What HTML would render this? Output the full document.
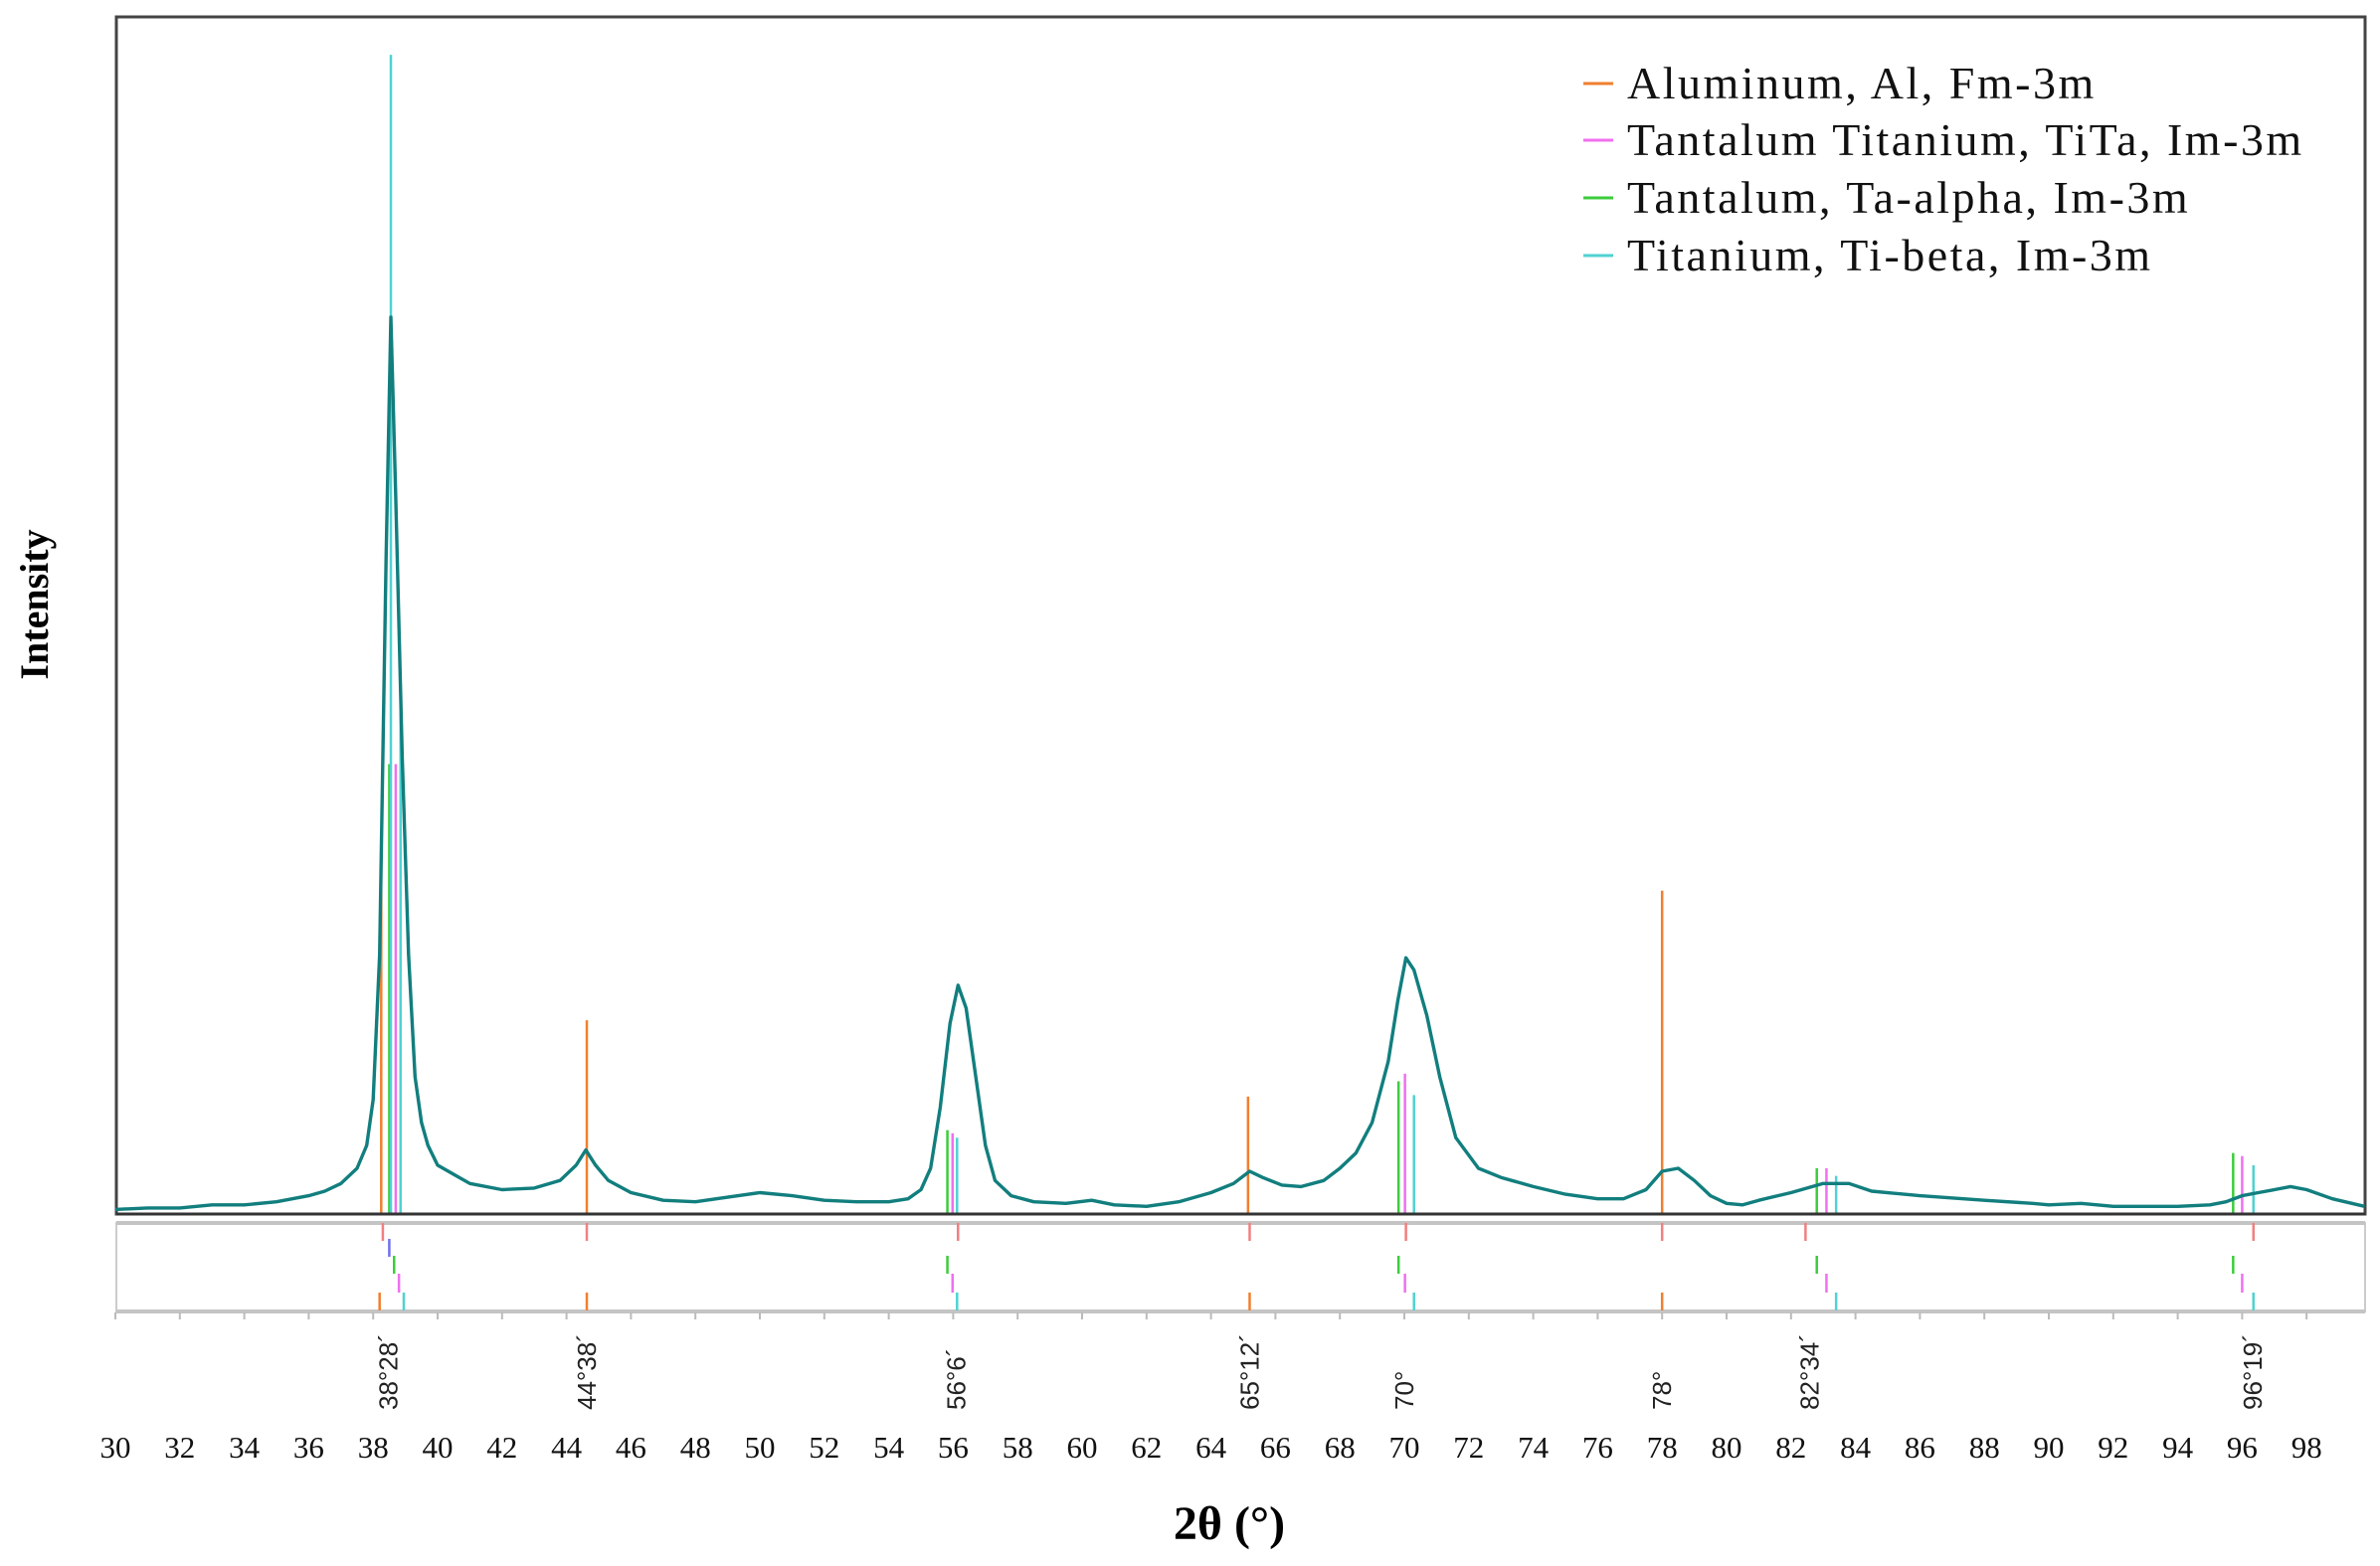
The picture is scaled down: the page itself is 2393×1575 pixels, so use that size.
<!DOCTYPE html>
<html><head><meta charset="utf-8"><style>
html,body{margin:0;padding:0;background:#fff;}
svg{display:block;}
</style></head><body>
<svg id="chart" width="2393" height="1575" xmlns="http://www.w3.org/2000/svg">
<rect x="0" y="0" width="2393" height="1575" fill="#fff"/>
<g id="plot"></g>
</svg>
<script>
// ---- data ----
const curveAngles = [30,31,32,33,34,35,36,36.5,37,37.5,37.8,38,38.2,38.4,38.55,38.7,38.9,39.1,39.3,39.5,39.7,40,40.5,41,42,43,43.8,44.3,44.6,44.9,45.3,46,47,48,49,50,51,52,53,54,54.6,55,55.3,55.6,55.9,56.15,56.4,56.7,57,57.3,57.8,58.5,59.5,60.3,61,62,63,64,64.7,65.2,65.6,66.2,66.8,67.5,68,68.5,69,69.5,69.8,70.05,70.3,70.7,71.1,71.6,72.3,73,74,75,76,76.8,77.5,78,78.5,79,79.5,80,80.5,81,82,83,83.8,84.5,86,88,89.5,90,91,92,93,94,95,95.5,96,96.5,97,97.5,98,98.8,99.8];
const curveIntensity = [3,4,4,6,6,8,12,15,20,30,45,75,170,430,588,470,300,170,90,60,45,32,26,20,16,17,22,32,42,32,22,14,9,8,11,14,12,9,8,8,10,16,30,70,125,150,135,90,45,22,12,8,7,9,6,5,8,14,20,28,24,19,18,22,30,40,60,100,140,168,160,130,90,50,30,24,18,13,10,10,16,28,30,22,12,7,6,9,14,20,20,15,12,9,7,6,7,5,5,5,6,8,12,14,16,18,16,10,5,3,2];
const peakLabels = ["38°28´","44°38´","56°6´","65°12´","70°","78°","82°34´","96°19´"];
const peakLabelAngles = [38.47,44.63,56.1,65.2,70,78,82.57,96.32];
const alAngles = [38.25,44.63,65.15,78.0];
const alHeights = [237,127,77,212];
const titaAngles = [38.7,55.98,70.02,83.1,96.0];
const titaHeights = [295,53,92,30,38];
const taAngles = [38.5,55.82,69.82,82.8,95.72];
const taHeights = [295,55,87,30,40];
const tiAngles = [38.55,38.85,56.12,70.3,83.4,96.35];
const tiHeights = [760,340,50,78,25,32];
const xTicks = [30,32,34,36,38,40,42,44,46,48,50,52,54,56,58,60,62,64,66,68,70,72,74,76,78,80,82,84,86,88,90,92,94,96,98];
// lower reference box rows
const row1Angles = [38.3,44.63,56.15,65.2,70.05,78,82.45,96.35];
const row2Angles = [38.5];
const row3Angles = [38.65,55.82,69.82,82.8,95.72];
const row4Angles = [38.8,55.98,70.02,83.1,96.0];
const row5Angles = [38.95,56.12,70.3,83.4,96.35];
const row6Angles = [38.2,44.63,65.2,78];
const legendLabels = ["Aluminum, Al, Fm-3m","Tantalum Titanium, TiTa, Im-3m","Tantalum, Ta-alpha, Im-3m","Titanium, Ti-beta, Im-3m"];

// ---- scales ----
const X0=116, PX_PER_DEG=32.4, BASE=1221, YK=1.534;
const xs = d => X0 + (d-30)*PX_PER_DEG;
const ys = v => BASE - v*YK;
const NS="http://www.w3.org/2000/svg";
const g=document.getElementById('plot');
function mk(tag, attrs, parent){const e=document.createElementNS(NS,tag);for(const k in attrs)e.setAttribute(k,attrs[k]);(parent||g).appendChild(e);return e;}

const C_AL="#f07f2f", C_TITA="#f070f0", C_TA="#3ccc3c", C_TI="#50d2d2", C_CURVE="#127e7e";

const frame=mk('rect',{x:117,y:17,width:2261,height:1204,fill:'none',stroke:'#444','stroke-width':3});



function sticks(angles,heights,color,name){
  const grp=mk('g',{});
  
  
  angles.forEach((a,i)=>{
    const l=mk('line',{x1:xs(a),x2:xs(a),y1:BASE,y2:ys(heights[i]),stroke:color,'stroke-width':2.5},grp);
    
    
  });
}
sticks(alAngles,alHeights,C_AL,'aluminum-reference');
sticks(taAngles,taHeights,C_TA,'tantalum-reference');
sticks(titaAngles,titaHeights,C_TITA,'tita-reference');
sticks(tiAngles,tiHeights,C_TI,'titanium-reference');

let d='';
curveAngles.forEach((a,i)=>{d+=(i?'L':'M')+xs(a).toFixed(1)+','+ys(curveIntensity[i]).toFixed(1);});
const curve=mk('path',{d:d,fill:'none',stroke:C_CURVE,'stroke-width':3.4,'stroke-linejoin':'round'});


mk('line',{x1:117,x2:2378,y1:1221,y2:1221,stroke:'#333','stroke-width':3});

const lb=mk('rect',{x:117,y:1230,width:2261,height:89,fill:'none',stroke:'#ccc','stroke-width':2});


mk('line',{x1:117,x2:2378,y1:1230,y2:1230,stroke:'#c4c4c4','stroke-width':4});
mk('line',{x1:117,x2:2378,y1:1319,y2:1319,stroke:'#c4c4c4','stroke-width':4});
const rows=[[row1Angles,'#f08080',1230,1248],[row2Angles,'#7070f0',1246,1264],[row3Angles,C_TA,1263,1281],[row4Angles,C_TITA,1281,1300],[row5Angles,C_TI,1300,1318],[row6Angles,C_AL,1300,1318]];
rows.forEach((r,ri)=>{
  r[0].forEach(a=>{
    const l=mk('line',{x1:xs(a),x2:xs(a),y1:r[2],y2:r[3],stroke:r[1],'stroke-width':2.5});
    
    
  });
});

xTicks.forEach(t=>{
  mk('line',{x1:xs(t),x2:xs(t),y1:1320,y2:1327,stroke:'#bbb','stroke-width':2});
  const tx=mk('text',{x:xs(t),y:1466,'text-anchor':'middle','font-family':'Liberation Serif, serif','font-size':31,fill:'#111'});
  tx.textContent=t;
  
  
});
peakLabels.forEach((s,i)=>{
  const x=xs(peakLabelAngles[i])+9, y=1418;
  const tx=mk('text',{x:x,y:y,transform:'rotate(-90 '+x+' '+y+')','font-family':'Liberation Sans, sans-serif','font-size':26,fill:'#222'});
  tx.textContent=s;
  
  
});

const xt=mk('text',{x:1236,y:1548,'text-anchor':'middle','font-family':'Liberation Serif, serif','font-size':48,'font-weight':'bold',fill:'#000'});
xt.textContent='2θ (°)';


const yt=mk('text',{x:48,y:608,'text-anchor':'middle',transform:'rotate(-90 48 608)','font-family':'Liberation Serif, serif','font-size':40,'font-weight':'bold',fill:'#000'});
yt.textContent='Intensity';



const legColors=[C_AL,C_TITA,C_TA,C_TI];
const legY=[86,143,201,259];
legendLabels.forEach((s,i)=>{
  const le=mk('g',{});
  
  
  mk('line',{x1:1592,x2:1622,y1:legY[i]-2,y2:legY[i]-2,stroke:legColors[i],'stroke-width':3},le);
  const tx=mk('text',{x:1636,y:legY[i]+13,'font-family':'Liberation Serif, serif','font-size':46,'letter-spacing':2.5,fill:'#111'},le);
  tx.textContent=s;
});
</script>
</body></html>
